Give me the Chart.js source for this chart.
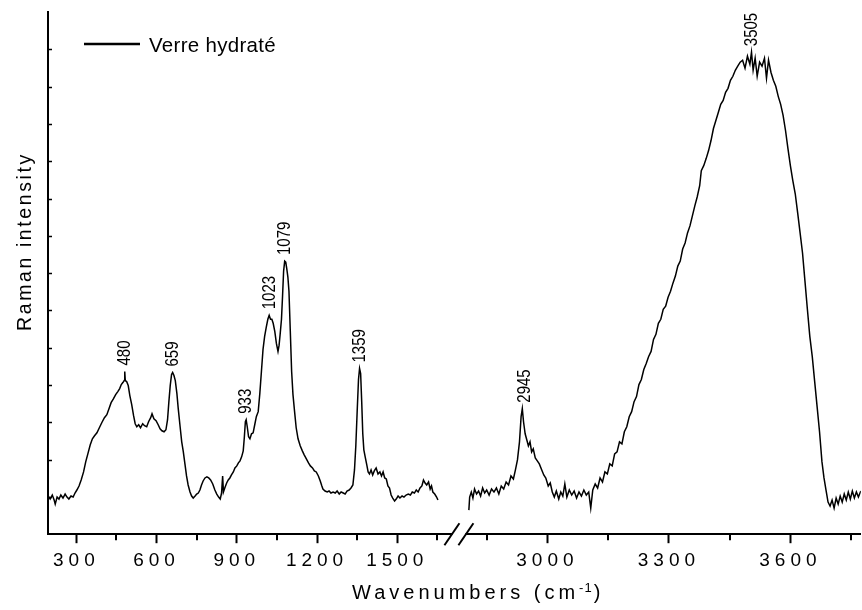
<!DOCTYPE html>
<html>
<head>
<meta charset="utf-8">
<script src="https://cdn.jsdelivr.net/npm/chart.js@4/dist/chart.umd.min.js"></script>
<style>
  html, body { margin: 0; padding: 0; background: #fff; }
  #wrap { width: 862px; height: 610px; }
</style>
</head>
<body>
<div id="wrap"><canvas id="c" width="862" height="610"></canvas></div>
<script>
// ---- Data (intensity in arbitrary units) ----
const seriesLabel = 'Verre hydraté';

const lowWavenumbers = [195,202,210,217,221,228,235,242,250,258,265,272,280,288,295,302,310,318,327,335,343,352,360,368,377,386,395,405,414,422,430,439,447,455,462,468,474,479,481,483,488,494,500,507,514,520,526,533,540,548,555,563,570,578,583,590,598,606,613,620,628,635,641,646,651,656,660,665,670,676,681,688,694,700,706,712,718,725,731,737,744,750,756,762,768,774,781,788,795,802,810,818,825,832,838,843,847,850,855,862,868,874,880,887,893,900,906,912,918,924,928,932,935,939,944,949,955,961,967,973,980,986,992,998,1004,1010,1016,1021,1026,1031,1036,1042,1048,1054,1058,1062,1067,1071,1075,1079,1083,1087,1091,1095,1100,1105,1110,1116,1122,1129,1137,1145,1152,1160,1168,1175,1183,1190,1197,1205,1212,1218,1222,1230,1238,1245,1252,1260,1268,1275,1283,1290,1298,1305,1312,1320,1327,1334,1340,1345,1350,1355,1359,1363,1367,1371,1375,1380,1386,1391,1396,1402,1408,1414,1421,1428,1435,1441,1447,1453,1459,1465,1471,1477,1483,1490,1496,1503,1510,1518,1525,1533,1541,1549,1556,1564,1571,1578,1585,1592,1598,1604,1610,1617,1623,1628,1633,1640,1647,1652];
const lowIntensity = [38,35,39,34,30,37,35,39,36,40,37,35,38,37,41,44,48,54,62,72,80,89,95,98,101,106,111,116,119,125,131,135,139,142,145,149,151,153,162,153,152,148,138,129,118,110,107,109,106,110,108,107,112,116,120,115,113,109,105,103,102,104,114,132,148,159,161,158,153,140,125,107,92,82,70,58,49,42,38,36,38,40,41,44,49,53,56,57,56,54,50,44,40,37,35,41,58,42,46,51,54,56,59,62,66,68,71,73,77,83,96,112,114,107,97,95,100,101,109,117,122,140,162,184,197,206,214,218,214,214,210,202,190,182,188,199,214,237,262,272,271,264,256,242,202,162,139,122,106,95,88,83,79,75,71,68,66,63,62,58,53,48,45,43,42,43,41,42,41,43,40,42,41,40,43,44,46,49,64,88,122,154,165,160,132,100,84,77,69,62,60,64,59,63,66,60,62,58,62,56,55,48,46,39,36,33,35,38,36,38,37,39,40,39,42,41,44,42,46,48,54,51,49,52,45,48,42,40,37,34];

const highWavenumbers = [2806,2808,2812,2816,2820,2825,2830,2835,2840,2845,2850,2856,2862,2868,2874,2880,2886,2892,2898,2904,2910,2916,2921,2926,2931,2935,2938,2941,2945,2949,2953,2957,2961,2965,2970,2975,2980,2986,2991,2996,3002,3007,3012,3017,3022,3028,3033,3038,3043,3048,3054,3060,3066,3072,3078,3084,3090,3096,3102,3107,3112,3118,3124,3130,3136,3142,3148,3154,3160,3166,3172,3178,3184,3190,3196,3202,3208,3214,3220,3226,3232,3238,3244,3250,3256,3262,3268,3274,3280,3286,3292,3298,3304,3310,3316,3322,3328,3334,3340,3346,3352,3358,3364,3370,3376,3380,3386,3392,3398,3404,3410,3416,3422,3428,3434,3440,3446,3452,3458,3464,3470,3476,3482,3488,3494,3500,3504,3508,3513,3518,3524,3530,3536,3541,3546,3552,3558,3564,3570,3576,3582,3588,3594,3600,3606,3612,3618,3624,3630,3636,3642,3648,3654,3660,3666,3672,3678,3683,3688,3693,3698,3703,3708,3713,3718,3723,3728,3733,3738,3743,3748,3753,3758,3763,3768,3774];
const highIntensity = [24,37,42,36,45,40,43,38,46,41,44,39,45,42,46,40,48,45,52,49,58,55,64,74,92,117,125,112,100,94,88,92,82,85,76,73,70,64,59,56,48,51,42,37,43,35,42,38,50,37,44,39,43,36,42,38,44,39,42,26,44,50,46,56,52,62,60,70,68,80,82,92,90,102,107,117,122,132,137,149,154,164,170,177,182,194,199,210,214,224,227,236,242,250,257,267,272,284,290,300,307,317,327,336,347,362,367,374,382,392,404,412,420,428,432,440,444,452,456,462,466,470,472,464,476,468,480,462,474,456,470,466,474,454,472,460,452,446,436,428,417,402,384,367,352,339,320,300,280,252,224,197,177,152,127,102,72,56,44,32,28,34,26,36,30,38,32,40,34,42,35,43,36,42,37,43];

const lowTickLabels = [300, 600, 900, 1200, 1500];
const highTickLabels = [3000, 3300, 3600];
const peakLabels = [480, 659, 933, 1023, 1079, 1359, 2945, 3505];

// ---- Axis ranges ----
const LOW_MIN = 194, LOW_MAX = 1695;
const HIGH_MIN = 2758, HIGH_MAX = 3774;
const TICK_STEP = 150;
const Y_MAX = 520, Y_DIVS = 14;

const FONT = "'Liberation Sans', Arial, Helvetica, sans-serif";

const lowPoints = lowWavenumbers.map((w, i) => ({ x: w, y: lowIntensity[i] }));
const highPoints = highWavenumbers.map((w, i) => ({ x: w, y: highIntensity[i] }));

function isMajor(v) { return lowTickLabels.includes(v) || highTickLabels.includes(v); }

const decor = {
  id: 'decor',
  beforeDraw(chart) {
    chart.ctx.letterSpacing = '5px';
  },
  afterDraw(chart) {
    const ctx = chart.ctx;
    const { xL, xR, y } = chart.scales;
    const area = chart.chartArea;
    ctx.save();
    ctx.letterSpacing = '0px';
    ctx.strokeStyle = '#000';
    ctx.fillStyle = '#000';

    // inner y ticks
    ctx.lineWidth = 1.5;
    for (let i = 1; i < Y_DIVS; i++) {
      const py = Math.round(y.getPixelForValue(i * Y_MAX / Y_DIVS)) + 0.5;
      ctx.beginPath(); ctx.moveTo(area.left, py); ctx.lineTo(area.left + 4, py); ctx.stroke();
    }

    // minor x ticks
    ctx.lineWidth = 2;
    [xL, xR].forEach(s => s.ticks.forEach(t => {
      if (!isMajor(t.value)) {
        const px = Math.round(s.getPixelForValue(t.value));
        ctx.beginPath(); ctx.moveTo(px, area.bottom); ctx.lineTo(px, area.bottom + 6); ctx.stroke();
      }
    }));

    // axis break
    const bx = xR.left;
    ctx.fillStyle = '#fff';
    ctx.fillRect(bx + 3, area.bottom - 3, 13, 6);
    ctx.fillStyle = '#000';
    ctx.lineWidth = 2;
    ctx.beginPath(); ctx.moveTo(bx - 5, area.bottom + 11); ctx.lineTo(bx + 10, area.bottom - 11); ctx.stroke();
    ctx.beginPath(); ctx.moveTo(bx + 9, area.bottom + 11); ctx.lineTo(bx + 24, area.bottom - 11); ctx.stroke();

    // peak labels
    ctx.font = '15px ' + FONT;
    ctx.textAlign = 'left';
    ctx.textBaseline = 'middle';
    peakLabels.forEach(p => {
      const low = p < 2000;
      const s = low ? xL : xR;
      const ws = low ? lowWavenumbers : highWavenumbers;
      const vs = low ? lowIntensity : highIntensity;
      let best = 0;
      ws.forEach((w, i) => { if (Math.abs(w - p) <= 8 && vs[i] > best) best = vs[i]; });
      const px = s.getPixelForValue(p);
      const py = y.getPixelForValue(best) - 6;
      ctx.save();
      ctx.translate(px, py);
      ctx.rotate(-Math.PI / 2);
      ctx.scale(1, 1.25);
      ctx.fillText(String(p), 0, 0);
      ctx.restore();
    });

    // legend
    ctx.lineWidth = 2.5;
    ctx.beginPath(); ctx.moveTo(84, 44); ctx.lineTo(140, 44); ctx.stroke();
    ctx.font = '20.5px ' + FONT;
    ctx.letterSpacing = '0.3px';
    ctx.textBaseline = 'alphabetic';
    ctx.fillText(chart.data.datasets[0].label, 149, 52);

    // y title
    ctx.save();
    ctx.translate(31, 331);
    ctx.rotate(-Math.PI / 2);
    ctx.font = '19.5px ' + FONT;
    ctx.letterSpacing = '2.6px';
    ctx.fillText('Raman intensity', 0, 0);
    ctx.restore();

    // x title with superscript
    ctx.font = '20px ' + FONT;
    ctx.letterSpacing = '4px';
    let tx = 352;
    const main = 'Wavenumbers (cm';
    ctx.fillText(main, tx, 599);
    tx += ctx.measureText(main).width;
    ctx.font = '13px ' + FONT;
    ctx.letterSpacing = '1px';
    ctx.fillText('-1', tx, 592);
    tx += ctx.measureText('-1').width + 1;
    ctx.font = '20px ' + FONT;
    ctx.fillText(')', tx, 599);

    ctx.restore();
  }
};

function xScale(min, max, weight) {
  return {
    type: 'linear',
    position: 'bottom',
    stack: 'wn',
    stackWeight: weight,
    min: min,
    max: max,
    afterBuildTicks: scale => {
      const list = [];
      for (let v = Math.ceil(min / TICK_STEP) * TICK_STEP; v <= max; v += TICK_STEP) list.push({ value: v });
      scale.ticks = list;
    },
    border: { display: true, color: '#000', width: 2 },
    grid: {
      drawOnChartArea: false,
      drawTicks: true,
      tickLength: 9,
      tickWidth: 2,
      tickColor: c => (c.tick && isMajor(c.tick.value)) ? '#000' : 'rgba(0,0,0,0)'
    },
    ticks: {
      autoSkip: false,
      maxRotation: 0,
      padding: 6,
      color: '#000',
      font: { family: FONT, size: 19 },
      callback: v => isMajor(v) ? String(v) : ''
    },
    title: { display: false }
  };
}

new Chart(document.getElementById('c'), {
  type: 'line',
  data: {
    datasets: [
      { label: seriesLabel, data: lowPoints, xAxisID: 'xL', yAxisID: 'y',
        borderColor: '#000', borderWidth: 1.5, pointRadius: 0, tension: 0, fill: false },
      { label: seriesLabel, data: highPoints, xAxisID: 'xR', yAxisID: 'y',
        borderColor: '#000', borderWidth: 1.5, pointRadius: 0, tension: 0, fill: false }
    ]
  },
  options: {
    responsive: false,
    animation: false,
    events: [],
    layout: { padding: { left: 48, top: 12, right: 0, bottom: 32 } },
    plugins: { legend: { display: false }, tooltip: { enabled: false } },
    scales: {
      xL: xScale(LOW_MIN, LOW_MAX, 402),
      xR: xScale(HIGH_MIN, HIGH_MAX, 412),
      y: {
        type: 'linear',
        position: 'left',
        min: 0,
        max: Y_MAX,
        border: { display: true, color: '#000', width: 2 },
        grid: { drawOnChartArea: false, drawTicks: false },
        ticks: { display: false },
        title: { display: false }
      }
    }
  },
  plugins: [decor]
});
</script>
</body>
</html>
